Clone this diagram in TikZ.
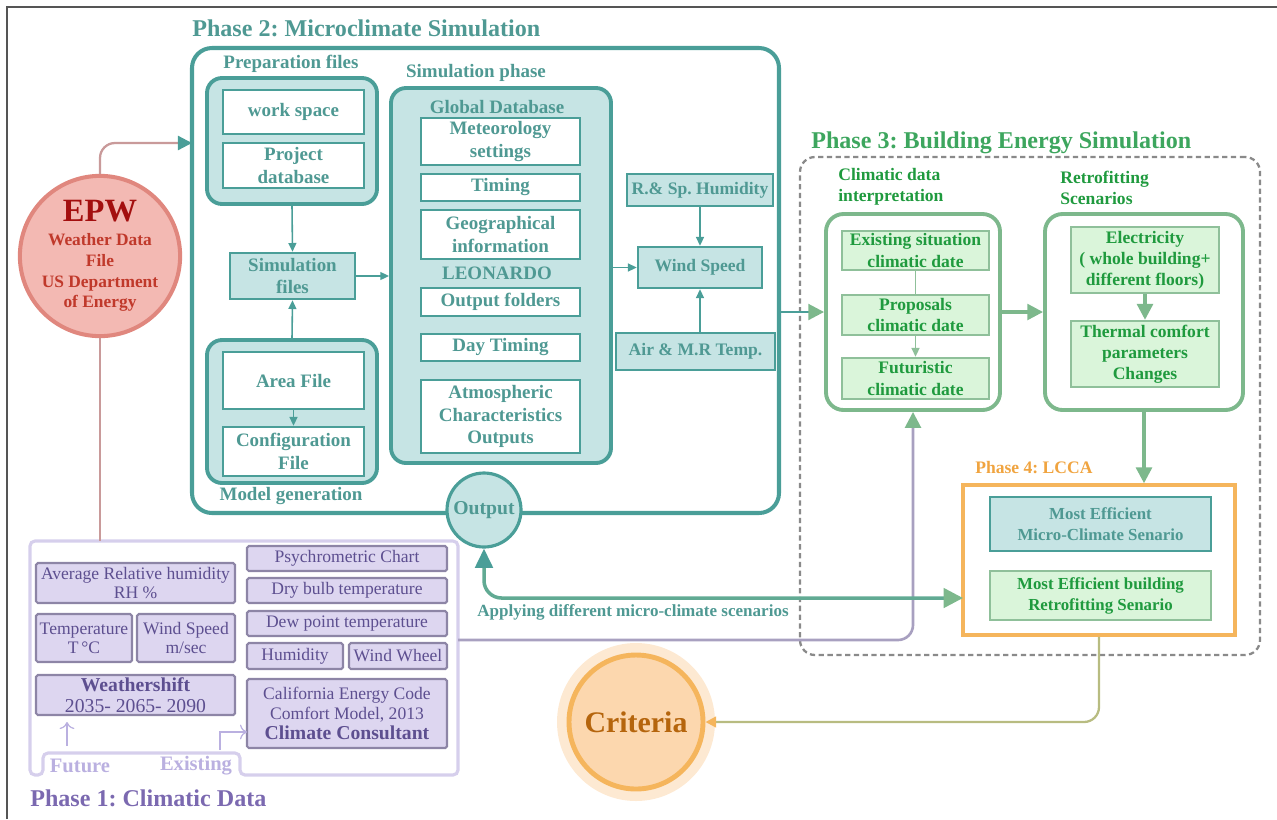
\documentclass[tikz,border=0pt]{standalone}
\usepackage{fontspec}
\setmainfont{Liberation Serif}
\usepackage{tikz}
\usetikzlibrary{arrows.meta}
\usetikzlibrary{shapes}
\frenchspacing
% colours
\definecolor{framec}{HTML}{555555}
\definecolor{tealln}{HTML}{4A9E98}
\definecolor{tealfl}{HTML}{C6E4E4}
\definecolor{tealtx}{HTML}{4F9993}
\definecolor{epwfl}{HTML}{F3B9B3}
\definecolor{epwln}{HTML}{E0877E}
\definecolor{epwtx}{HTML}{C0392B}
\definecolor{epwdk}{HTML}{A30F0F}
\definecolor{epwline}{HTML}{C99A9A}
\definecolor{grnln}{HTML}{7DB88C}
\definecolor{grnbd}{HTML}{8FC09A}
\definecolor{grnfl}{HTML}{DAF5DA}
\definecolor{grntx}{HTML}{1F9A3E}
\definecolor{grnti}{HTML}{3DA65E}
\definecolor{dashc}{HTML}{8A8A8A}
\definecolor{purln}{HTML}{D6CFEC}
\definecolor{purfl}{HTML}{DDD6F0}
\definecolor{purbd}{HTML}{8D85A6}
\definecolor{purtx}{HTML}{5D4F90}
\definecolor{purti}{HTML}{7B69B0}
\definecolor{purlt}{HTML}{BAB0E0}
\definecolor{purline}{HTML}{A8A0C0}
\definecolor{orgln}{HTML}{F5B55C}
\definecolor{orgtx}{HTML}{F0A440}
\definecolor{orgfl}{HTML}{FCD7AE}
\definecolor{orgdk}{HTML}{B5650D}
\newcommand{\px}{0.02cm}
\newcommand{\titlefont}{\fontsize{13.7}{16}\selectfont\bfseries}
\newcommand{\boxfont}{\fontsize{10.8}{12.8}\selectfont\bfseries}
\newcommand{\lblfont}{\fontsize{10}{12}\selectfont\bfseries}
\newcommand{\datafont}{\fontsize{10}{10.8}\selectfont}
\newcommand{\tnode}{\node[font=\titlefont,anchor=west]}
\tikzset{
  every node/.style={inner sep=0pt, align=center},
  >={Triangle[length=5pt,width=4.5pt]},
  wbox/.style 2 args={draw=tealln, fill=white, line width=1.4pt, text=tealtx, font=\boxfont,
    minimum width=#1*\px, minimum height=#2*\px},
  tbox/.style 2 args={draw=tealln, fill=tealfl, line width=1.4pt, text=tealtx, font=\lblfont,
    minimum width=#1*\px, minimum height=#2*\px},
  gbox/.style 2 args={draw=grnbd, fill=grnfl, line width=1.4pt, text=grntx, font=\lblfont,
    minimum width=#1*\px, minimum height=#2*\px},
  pbox/.style 2 args={draw=purbd, fill=purfl, line width=1.2pt, rounded corners=1pt, text=purtx,
    font=\datafont, minimum width=#1*\px, minimum height=#2*\px},
  holder/.style 2 args={draw=tealln, fill=tealfl, line width=2.2pt, rounded corners=0.3cm,
    minimum width=#1*\px, minimum height=#2*\px},
  gholder/.style 2 args={draw=grnln, fill=white, line width=2.2pt, rounded corners=0.35cm,
    minimum width=#1*\px, minimum height=#2*\px},
  thin/.style={draw=tealln, line width=0.9pt, ->},
  garrow/.style={draw=grnln, line width=1.8pt, -{Triangle[length=9pt,width=9pt]}},
}

\begin{document}
\begin{tikzpicture}[x=\px,y=-\px]
  \useasboundingbox (0,0) rectangle (1277,819);
  %%%% frame
  \draw[framec, line width=1.1pt] (7,819) -- (7,7) -- (1277,7);

  %%%% Phase 2
  \tnode[text=tealtx] (ph2title) at (192,28) {Phase 2: Microclimate Simulation};
  \node[draw=tealln, line width=2.3pt, rounded corners=0.4cm, minimum width=587*\px,
    minimum height=465*\px] (ph2) at (485.5,280.5) {};
  % preparation files
  \node[font=\boxfont, text=tealtx] (preplbl) at (291,64) {Preparation files};
  \node[holder={170}{126}] (prep) at (292,141) {};
  \node[wbox={141}{44}] (ws) at (293.5,112) {work space};
  \node[wbox={141}{45}] (projdb) at (293.5,165.5) {Project\\database};
  \node[tbox={125}{46}, font=\boxfont] (simfiles) at (292.5,276) {Simulation\\files};
  % model generation
  \node[holder={170}{143}] (model) at (292,411.5) {};
  \node[wbox={141}{57}] (area) at (293.5,380.5) {Area File};
  \node[wbox={141}{49}] (config) at (293.5,451.5) {Configuration\\File};
  \node[font=\boxfont, text=tealtx] (modellbl) at (291,496) {Model generation};
  % simulation phase
  \node[font=\boxfont, text=tealtx] (simlbl) at (476,73) {Simulation phase};
  \node[holder={220}{375}] (simph) at (501,275.5) {};
  \node[font=\boxfont, text=tealtx] (globdb) at (497,107) {Global Database};
  \node[wbox={159}{47}] (meteo) at (500.5,141.5) {Meteorology\\settings};
  \node[wbox={159}{27}] (timing) at (500.5,187.5) {Timing};
  \node[wbox={159}{49}] (geo) at (500.5,234.5) {Geographical\\information};
  \node[font=\boxfont, text=tealtx] (leo) at (497,273) {LEONARDO};
  \node[wbox={159}{28}] (outfold) at (500.5,302) {Output folders};
  \node[wbox={159}{27}] (daytim) at (500.5,347.5) {Day Timing};
  \node[wbox={159}{73}] (atmos) at (500.5,416.5) {Atmospheric\\Characteristics\\Outputs};
  % outputs of the simulation
  \node[tbox={146}{32}] (rsp) at (700,190) {R.\& Sp. Humidity};
  \node[tbox={124}{41}] (wind) at (700,267.5) {Wind Speed};
  \node[tbox={159}{37}] (airt) at (695.5,351.5) {Air \& M.R Temp.};
  \node[circle, draw=tealln, fill=tealfl, line width=1.8pt, minimum size=74*\px, text=tealtx,
    font=\fontsize{11.2}{13}\selectfont\bfseries] (out) at (484,510) {Output};

  %%%% EPW
  \node[circle, draw=epwln, fill=epwfl, line width=2.3pt, minimum size=154*\px, text=epwtx,
    font=\fontsize{9.9}{11.7}\selectfont\bfseries] (epw) at (100,256)
    {{\color{epwdk}\fontsize{18.5}{20}\selectfont EPW}\\[2pt]Weather Data\\File\\US Department\\of Energy};

  %%%% Phase 3
  \node[draw=dashc, densely dashed, line width=1.3pt, rounded corners=0.3cm, minimum width=460*\px,
    minimum height=498*\px] (ph3) at (1030,406) {};
  \tnode[text=grnti] (ph3title) at (811,143) {Phase 3: Building Energy Simulation};
  \node[font=\lblfont, text=grntx, anchor=west, align=left] (climlbl) at (838,187)
    {Climatic data\\interpretation};
  \node[gholder={174}{196}] (clim) at (913,312) {};
  \node[gbox={147}{39}] (exist) at (915.5,250.5) {Existing situation\\climatic date};
  \node[gbox={147}{40}] (propos) at (915.5,315) {Proposals\\climatic date};
  \node[gbox={147}{41}] (futur) at (915.5,378.5) {Futuristic\\climatic date};
  \node[font=\lblfont, text=grntx, anchor=west, align=left] (retrolbl) at (1060,188)
    {Retrofitting\\Scenarios};
  \node[gholder={198}{196}] (retro) at (1144,312) {};
  \node[gbox={148}{66}] (elec) at (1145,260) {Electricity\\( whole building+\\different floors)};
  \node[gbox={148}{66}] (therm) at (1145,354) {Thermal comfort\\parameters\\Changes};

  %%%% Phase 4
  \node[font=\lblfont, text=orgtx, anchor=west] (ph4title) at (975,468) {Phase 4: LCCA};
  \node[draw=orgln, fill=white, line width=2pt, minimum width=272*\px, minimum height=150*\px]
    (ph4) at (1099,560) {};
  \node[tbox={221}{54}, line width=1.6pt, font=\fontsize{9.6}{12}\selectfont\bfseries] (mostmc)
    at (1100.5,524) {Most Efficient\\Micro-Climate Senario};
  \node[gbox={221}{49}, font=\fontsize{9.6}{12}\selectfont\bfseries] (mostret)
    at (1100.5,595.5) {Most Efficient building\\Retrofitting Senario};

  %%%% Criteria
  \node[circle, fill=orgfl!55, minimum size=158*\px] (critglow) at (636,722) {};
  \node[circle, draw=orgln, fill=orgfl, line width=2.8pt, minimum size=134*\px, text=orgdk,
    font=\fontsize{17}{19}\selectfont\bfseries] (crit) at (636,722) {Criteria};

  %%%% Phase 1
  \draw[purln, line width=1.8pt, rounded corners=0.1cm] (30,541) -- (458,541) -- (458,775)
    -- (240,775) -- (240,753) -- (43,753) -- (43,775) -- (30,775) -- cycle;
  \node[pbox={199}{40}] (avgrh) at (135.5,583) {Average Relative humidity\\RH \%};
  \node[pbox={96}{48}] (temp) at (84,638) {Temperature\\T\,°C};
  \node[pbox={98}{48}] (windsp) at (186,638) {Wind Speed\\m/sec};
  \node[pbox={199}{40}, font=\fontsize{11.2}{11.6}\selectfont] (wshift) at (135.5,695)
    {\textbf{Weathershift}\\2035- 2065- 2090};
  \node[pbox={200}{25}] (psy) at (347,558.5) {Psychrometric Chart};
  \node[pbox={200}{25}] (dry) at (347,590.5) {Dry bulb temperature};
  \node[pbox={200}{25}] (dew) at (347,623.5) {Dew point temperature};
  \node[pbox={96}{26}] (hum) at (295,656) {Humidity};
  \node[pbox={98}{26}] (wwheel) at (398,656) {Wind Wheel};
  \node[pbox={200}{69}, font=\fontsize{10}{11.5}\selectfont] (calif) at (347,713.5)
    {California Energy Code\\Comfort Model, 2013\\{\fontsize{11.2}{11.5}\selectfont\bfseries Climate Consultant}};
  \node[font=\fontsize{11.7}{13}\selectfont\bfseries, text=purlt] (fut) at (80,766) {Future};
  \node[font=\fontsize{11.7}{13}\selectfont\bfseries, text=purlt] (exst) at (196,766) {Existing};
  \tnode[text=purti] (ph1title) at (30,798) {Phase 1: Climatic Data};
  \coordinate (futfoot) at (67,746);
  \coordinate (futtop) at (67,722);
  \coordinate (exfoot) at (220,750);
  \coordinate (califin) at (247,732);
  \coordinate (ph1n) at (100,541);
  \coordinate (ph1out) at (458,640);
  \coordinate (ph2in) at (192,143);
  \coordinate (ph4in) at (963,598);

  %%%% graph links
  \draw[thin] (prep.south) -- (simfiles.north);
  \draw[thin] (model.north) -- (simfiles.south);
  \draw[thin] (area.south) -- (config.north);
  \draw[thin] (simfiles.east) -- (simfiles.east -| simph.west);
  \draw[thin] (simph.east |- wind.west) -- (wind.west);
  \draw[thin] (rsp.south) -- (wind.north);
  \draw[thin] (airt.north -| wind) -- (wind.south);
  \draw[draw=epwline, line width=1.3pt, rounded corners=0.3cm,
    -{Triangle[length=8pt,width=8pt,color=tealln]}] (epw.north) |- (ph2in);
  \draw[draw=epwline, line width=1.3pt] (epw.south) -- (ph1n);
  \draw[draw=tealln, line width=1.6pt, -{Triangle[length=9pt,width=9pt,color=grnln]}]
    (ph2.east |- clim.west) -- (clim.west);
  \draw[draw=grnbd, line width=0.9pt] (exist.south) -- (propos.north);
  \draw[draw=grnbd, line width=0.9pt, ->] (propos.south) -- (futur.north);
  \draw[garrow] (clim.east) -- (retro.west);
  \draw[garrow] (elec.south) -- (therm.north);
  \draw[garrow] (retro.south) -- (retro.south |- ph4.north);
  \draw[draw=purline, line width=1.5pt, rounded corners=0.3cm,
    -{Triangle[length=9pt,width=9pt,color=grnln]}] (ph1out) -| (clim.south);
  \draw[draw=tealln!55!grnln, line width=2pt, rounded corners=0.35cm,
    {Triangle[length=11pt,width=10pt,color=tealln]}-{Triangle[length=11pt,width=11pt,color=grnln]}]
    (out.south) |- (ph4in);
  \node[font=\fontsize{9.7}{11}\selectfont\bfseries, text=tealtx, anchor=west] (applbl)
    at (477,612) {Applying different micro-climate scenarios};
  \draw[draw=grnbd!60!orgln, line width=1.3pt, rounded corners=0.3cm,
    -{Triangle[length=6pt,width=6pt,color=orgln]}] (ph4.south) |- (crit.east);
  \draw[draw=purlt, line width=0.7pt, -{To[length=4pt]}] (futfoot) -- (futtop);
  \draw[draw=purlt, line width=0.7pt, -{To[length=4pt]}] (exfoot) |- (califin);
\end{tikzpicture}
\end{document}
